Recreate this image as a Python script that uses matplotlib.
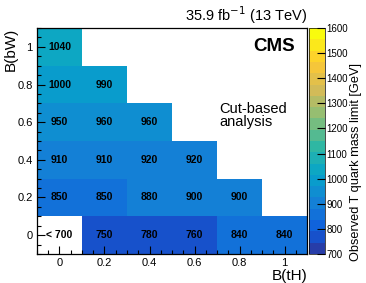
import numpy as np
import matplotlib
matplotlib.use("Agg")
import matplotlib.pyplot as plt
from matplotlib.colors import LinearSegmentedColormap, BoundaryNorm, ListedColormap
from matplotlib.ticker import MultipleLocator

plt.rcParams['font.family'] = ['Liberation Sans', 'DejaVu Sans']

# data: observed T quark mass limits, rows = B(bW), columns = B(tH)
b_th = [0.0, 0.2, 0.4, 0.6, 0.8, 1.0]
b_bw = [0.0, 0.2, 0.4, 0.6, 0.8, 1.0]
limits = [
    [650, 750, 780, 760, 840, 840],    # B(bW) = 0 (first cell is < 700)
    [850, 850, 880, 900, 900, None],   # 0.2
    [910, 910, 920, 920, None, None],  # 0.4
    [950, 960, 960, None, None, None], # 0.6
    [1000, 990, None, None, None, None],  # 0.8
    [1040, None, None, None, None, None],  # 1.0
]
cell_labels = [
    ["< 700", "750", "780", "760", "840", "840"],
    ["850", "850", "880", "900", "900", ""],
    ["910", "910", "920", "920", "", ""],
    ["950", "960", "960", "", "", ""],
    ["1000", "990", "", "", "", ""],
    ["1040", "", "", "", "", ""],
]
zmin, zmax = 700, 1600
n_contours = 20

# ROOT kBird palette, picked per contour like ROOT does (255 colours)
stops = [0.0, 0.125, 0.25, 0.375, 0.5, 0.625, 0.75, 0.875, 1.0]
red = [0.2082, 0.0592, 0.0780, 0.0232, 0.1802, 0.5301, 0.8186, 0.9956, 0.9764]
green = [0.1664, 0.3599, 0.5041, 0.6419, 0.7178, 0.7492, 0.7328, 0.7862, 0.9832]
blue = [0.5293, 0.8684, 0.8385, 0.7914, 0.6425, 0.4662, 0.3499, 0.1968, 0.0539]
bird = LinearSegmentedColormap.from_list(
    "bird", [(s, (r, g, b)) for s, r, g, b in zip(stops, red, green, blue)])
idx = [min(int((k + 0.99) * 255 / n_contours), 254) / 254 for k in range(n_contours)]
cmap = ListedColormap([bird(v) for v in idx])
cmap.set_under("white")
cmap.set_bad("white")
levels = np.linspace(zmin, zmax, n_contours + 1)
norm = BoundaryNorm(levels, cmap.N)

z = np.ma.masked_invalid(np.array([[np.nan if v is None else v for v in row] for row in limits], dtype=float))
xedges = np.array(b_th + [1.2]) - 0.1
yedges = np.array(b_bw + [1.2]) - 0.1

fig = plt.figure(figsize=(3.66, 2.83), dpi=100)
ax = fig.add_axes([0.101, 0.1025, 0.738, 0.7985])
cax = fig.add_axes([0.845, 0.1025, 0.043, 0.7985])

mesh = ax.pcolormesh(xedges, yedges, z, cmap=cmap, norm=norm)
for i, y in enumerate(b_bw):
    for j, x in enumerate(b_th):
        if cell_labels[i][j]:
            ax.text(x, y, cell_labels[i][j], ha="center", va="center",
                    fontsize=7.5, fontweight="bold", color="black")

ax.set_xlim(-0.1, 1.1)
ax.set_ylim(-0.1, 1.1)
ax.xaxis.set_major_locator(MultipleLocator(0.2))
ax.xaxis.set_minor_locator(MultipleLocator(0.05))
ax.yaxis.set_major_locator(MultipleLocator(0.2))
ax.yaxis.set_minor_locator(MultipleLocator(0.05))
ax.xaxis.set_major_formatter(plt.FuncFormatter(lambda v, p: "%g" % round(v, 2)))
ax.yaxis.set_major_formatter(plt.FuncFormatter(lambda v, p: "%g" % round(v, 2)))
ax.tick_params(which="both", direction="in", top=False, right=False,
               labelsize=8, width=0.8, pad=3)
ax.tick_params(which="major", length=5.8)
ax.tick_params(which="minor", length=3)
for sp in ax.spines.values():
    sp.set_linewidth(0.9)

ax.text(1.0, -0.068, "B(tH)", transform=ax.transAxes, ha="right", va="top", fontsize=11)
ax.text(-0.07, 1.0, "B(bW)", transform=ax.transAxes, ha="right", va="top",
        rotation=90, fontsize=11)
ax.text(1.0, 1.008, "35.9 fb$^{-1}$ (13 TeV)", transform=ax.transAxes,
        ha="right", va="bottom", fontsize=10.5)
ax.text(0.955, 0.918, "CMS", transform=ax.transAxes, ha="right", va="center",
        fontsize=13.5, fontweight="bold")
ax.text(0.674, 0.624, "Cut-based", transform=ax.transAxes, ha="left",
        va="baseline", fontsize=10.5)
ax.text(0.674, 0.566, "analysis", transform=ax.transAxes, ha="left",
        va="baseline", fontsize=10.5)

cb = fig.colorbar(mesh, cax=cax, ticks=np.arange(700, 1601, 100))
cb.outline.set_linewidth(0.5)
cax.tick_params(direction="in", length=6, width=0.8, labelsize=7, pad=1)
cax.minorticks_off()
fig.text(0.973, 0.777, "Observed T quark mass limit [GeV]", rotation=90,
         ha="center", va="top", fontsize=9.2)

fig.savefig("out.png", dpi=100)
